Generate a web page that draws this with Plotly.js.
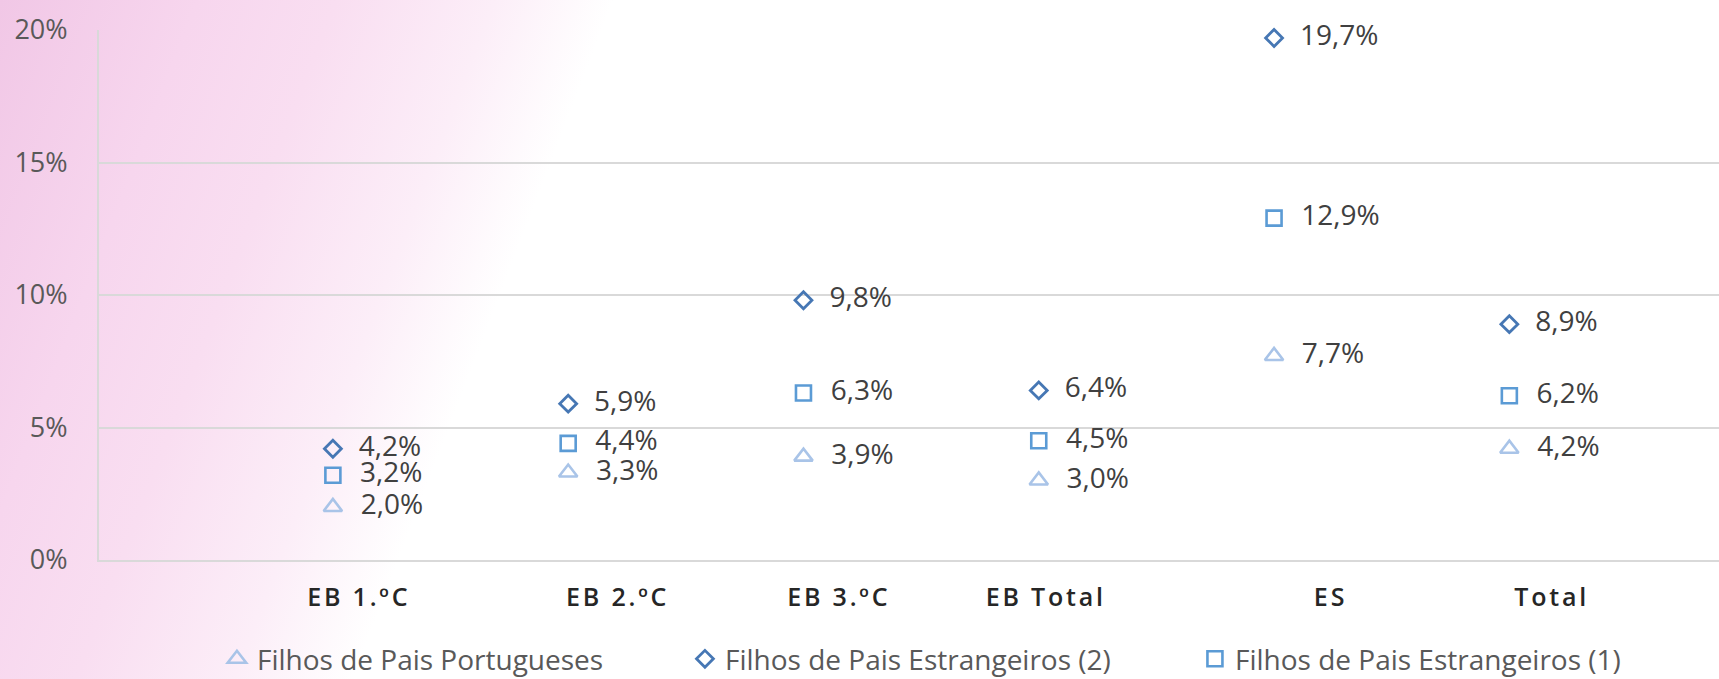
<!DOCTYPE html>
<html>
<head>
<meta charset="utf-8">
<script src="https://cdn.plot.ly/plotly-3.0.1.min.js"></script>
<style>
  html, body { margin: 0; padding: 0; background: #ffffff; }
  #chart {
    width: 1719px; height: 679px;
    background: linear-gradient(111deg, #F1C7E6 0%, #F7D6EE 10%, #F9DEF1 17%, #FCEEF8 25%, #FFFFFF 31%, #FFFFFF 100%);
  }
  #chart .xtick text { letter-spacing: 2.8px; }
</style>
</head>
<body>
<div id="chart"></div>
<script>
// ---- data ----
const categories = ["EB 1.ºC", "EB 2.ºC", "EB 3.ºC", "EB Total", "ES", "Total"];
const seriesNames = ["Filhos de Pais Portugueses", "Filhos de Pais Estrangeiros (2)", "Filhos de Pais Estrangeiros (1)"];
const portugueses = [2.0, 3.3, 3.9, 3.0, 7.7, 4.2];
const estrangeiros2 = [4.2, 5.9, 9.8, 6.4, 19.7, 8.9];
const estrangeiros1 = [3.2, 4.4, 6.3, 4.5, 12.9, 6.2];
const yTickVals = [0, 5, 10, 15, 20];
const yTickText = ["0%", "5%", "10%", "15%", "20%"];

// ---- layout helpers (tick label offsets, in category units) ----
const tickOffsets = [0.11, 0.21, 0.15, 0.03, 0.24, 0.18];

const xIdx = categories.map((c, i) => i);
const tickPos = xIdx.map((i) => i + tickOffsets[i]);

function series(name, y, symbol, color, size, lw) {
  return {
    type: 'scatter', mode: 'markers+text', name: name,
    x: xIdx, y: y,
    texttemplate: '\u2002\u200A%{y:.1f}%',
    textposition: 'middle right',
    textfont: { family: 'Open Sans, sans-serif', size: 28, color: '#404040' },
    marker: { symbol: symbol, size: size, color: color, line: { color: color, width: lw } },
    cliponaxis: false,
    hoverinfo: 'skip'
  };
}

const traces = [
  Object.assign(series(seriesNames[0], portugueses, 'triangle-up-open', '#A9C4E8', 16, 2.6), { legendwidth: 423 }),
  Object.assign(series(seriesNames[1], estrangeiros2, 'diamond-open', '#4677B4', 13, 2.8), { legendwidth: 465 }),
  series(seriesNames[2], estrangeiros1, 'square-open', '#5B9BD5', 15, 2.6)
];

const layout = {
  width: 1719, height: 679,
  margin: { l: 99, r: 0, t: 30, b: 119, autoexpand: false },
  paper_bgcolor: 'rgba(0,0,0,0)',
  plot_bgcolor: 'rgba(0,0,0,0)',
  separators: ',.',
  font: { family: 'Open Sans, sans-serif', color: '#595959' },
  xaxis: {
    range: [-0.994, 5.891],
    tickmode: 'array', tickvals: tickPos, ticktext: categories,
    showgrid: false, zeroline: false,
    showline: true, linecolor: '#D9D9D9', linewidth: 2,
    ticks: '', ticklabelstandoff: 14,
    tickfont: { family: 'Open Sans, sans-serif', size: 25, color: '#262626', weight: 600 },
    fixedrange: true
  },
  yaxis: {
    range: [0, 20],
    tickmode: 'array', tickvals: yTickVals, ticktext: yTickText,
    showgrid: true, gridcolor: '#D9D9D9', gridwidth: 2,
    zeroline: false,
    showline: true, linecolor: '#D9D9D9', linewidth: 2,
    ticks: '', ticklabelstandoff: 24,
    tickfont: { family: 'Open Sans, sans-serif', size: 27, color: '#595959' },
    fixedrange: true
  },
  showlegend: true,
  legend: {
    orientation: 'h',
    x: 0.0728, xanchor: 'left',
    y: -0.187, yanchor: 'middle',
    font: { family: 'Open Sans, sans-serif', size: 28, color: '#595959' },
    bgcolor: 'rgba(0,0,0,0)',
    itemclick: false, itemdoubleclick: false
  }
};

Plotly.newPlot('chart', traces, layout, { displayModeBar: false, staticPlot: true });
</script>
</body>
</html>
